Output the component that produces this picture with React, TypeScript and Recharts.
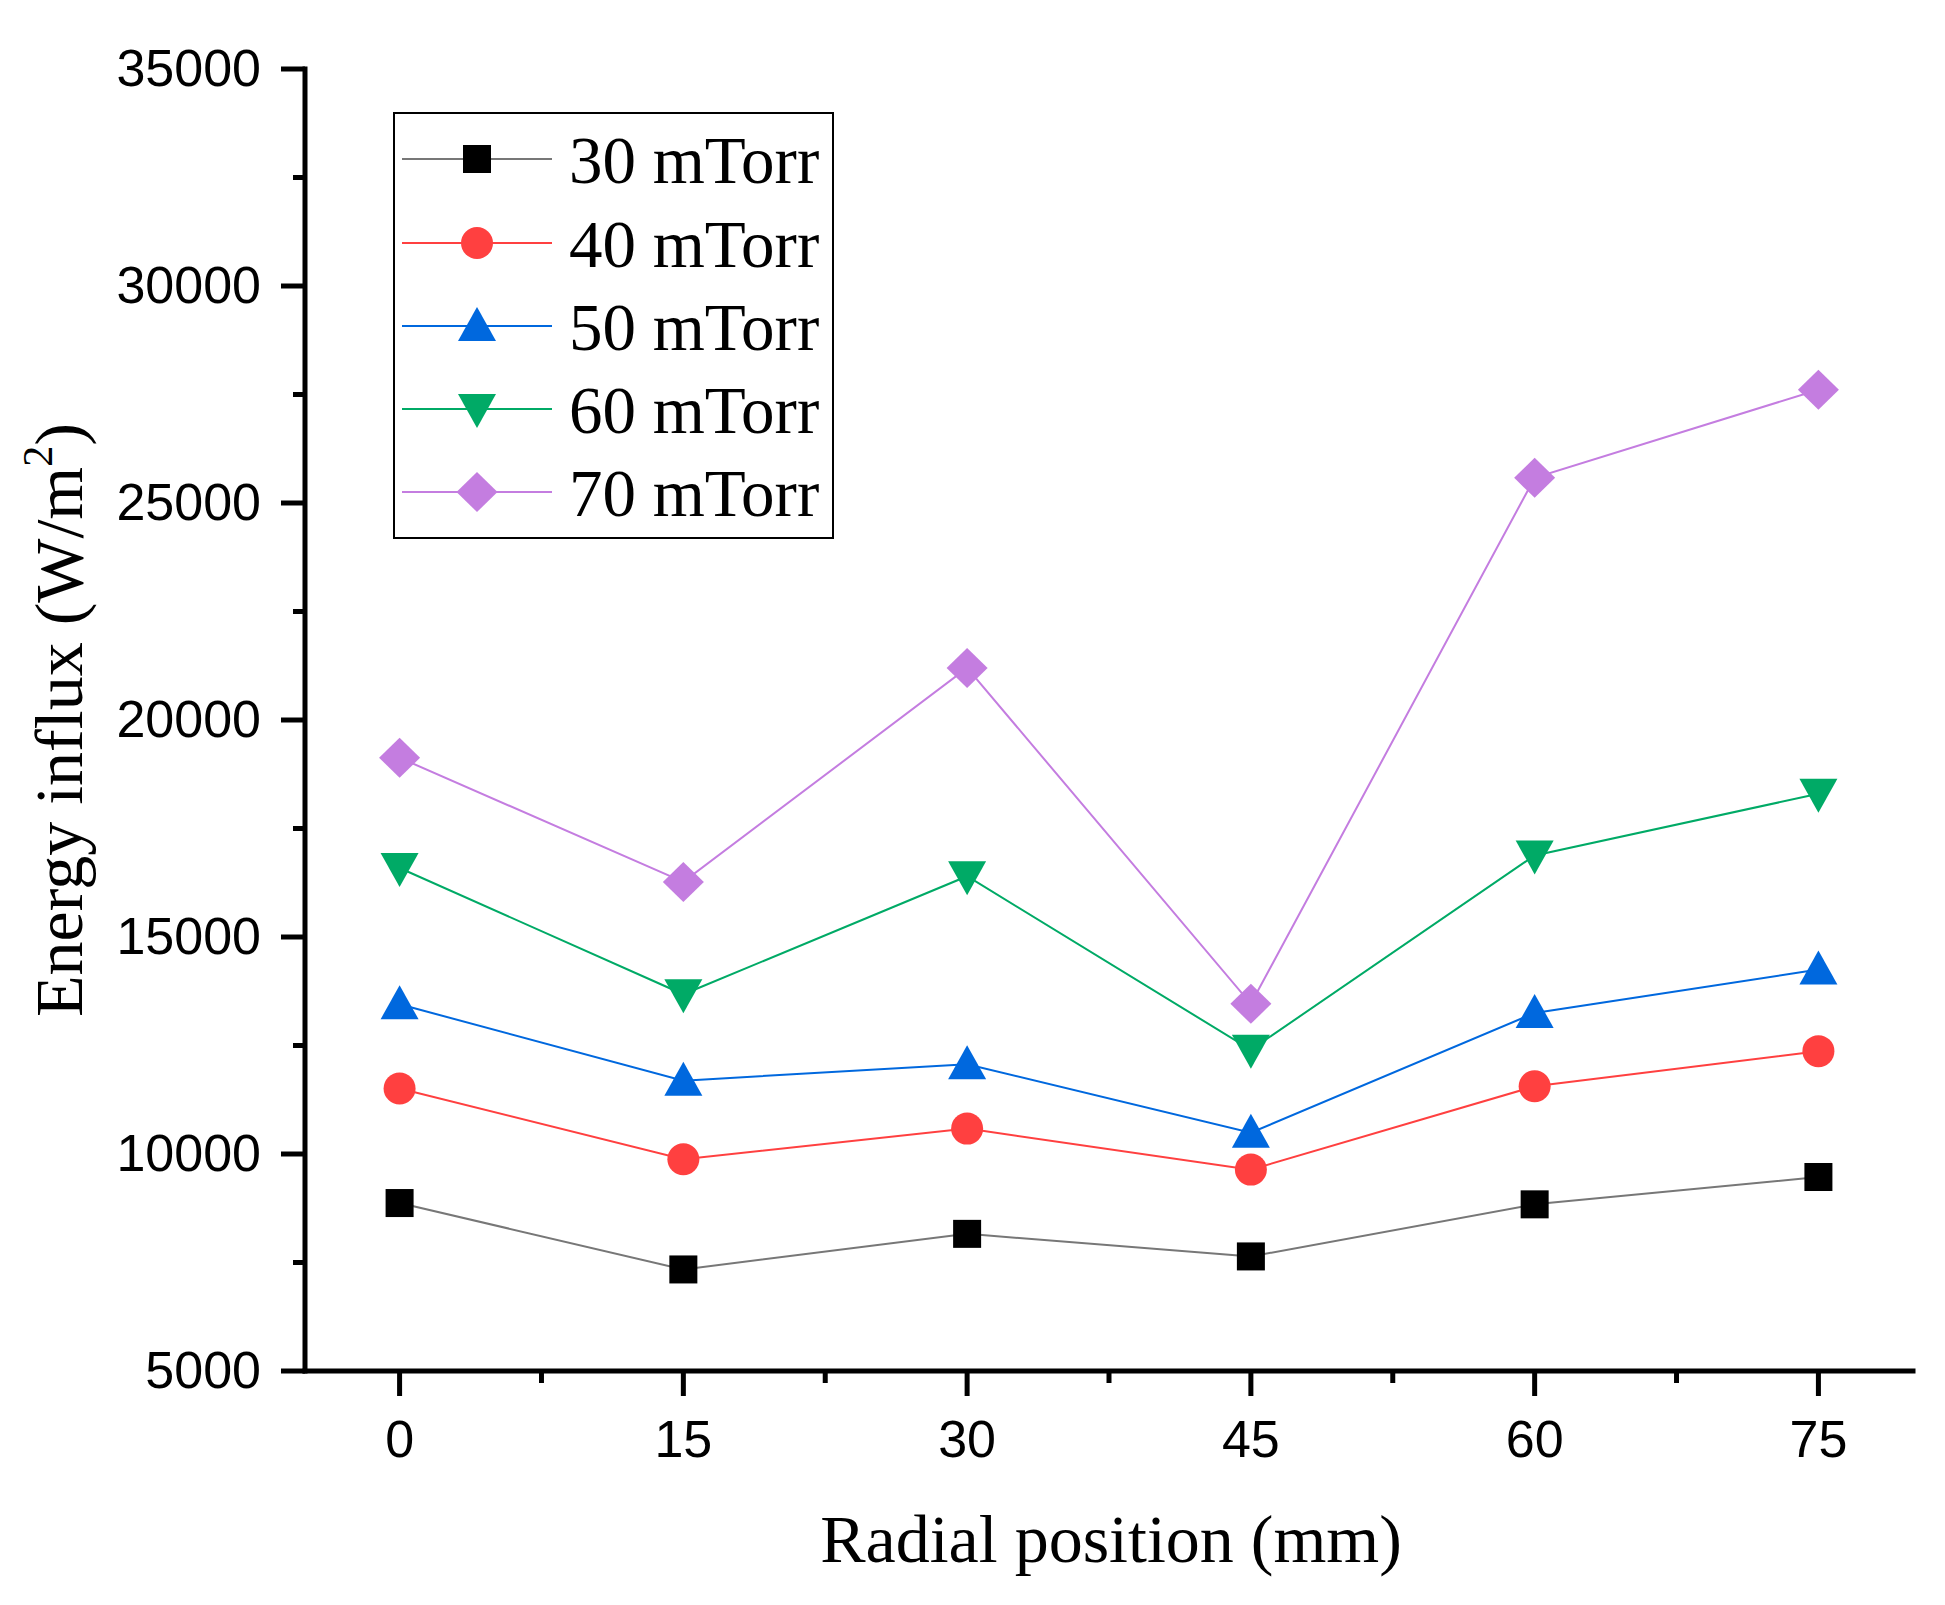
import React from 'react';
import { LineChart, Line, XAxis, YAxis, Legend } from 'recharts';

// radial position (mm)
const POSITIONS = [0, 15, 30, 45, 60, 75];

// energy influx (W/m2) per pressure
const P30 = [8870, 7340, 8160, 7640, 8840, 9470];
const P40 = [11510, 9880, 10585, 9640, 11560, 12370];
const P50 = [13450, 11690, 12070, 10490, 13250, 14250];
const P60 = [16590, 13680, 16400, 12400, 16880, 18300];
const P70 = [19130, 16270, 21200, 13460, 25580, 27610];

const SERIES_NAMES = ['30 mTorr', '40 mTorr', '50 mTorr', '60 mTorr', '70 mTorr'];

const X_MAJOR = [0, 15, 30, 45, 60, 75];
const X_MINOR = [7.5, 22.5, 37.5, 52.5, 67.5];
const Y_MAJOR = [5000, 10000, 15000, 20000, 25000, 30000, 35000];
const Y_MINOR = [7500, 12500, 17500, 22500, 27500, 32500];

const SANS = '"Liberation Sans", Arial, sans-serif';
const SERIF = '"Liberation Serif", "Times New Roman", serif';

const SERIES = [
  { key: 'p30', values: P30, line: '#777777', fill: '#000000', shape: 'square' },
  { key: 'p40', values: P40, line: '#FF4040', fill: '#FF4040', shape: 'circle' },
  { key: 'p50', values: P50, line: '#0068DE', fill: '#0068DE', shape: 'up' },
  { key: 'p60', values: P60, line: '#00AA66', fill: '#00AA66', shape: 'down' },
  { key: 'p70', values: P70, line: '#C47DE0', fill: '#C47DE0', shape: 'diamond' },
];

const data = POSITIONS.map((x, i) => {
  const row: any = { x };
  SERIES.forEach((s) => (row[s.key] = s.values[i]));
  return row;
});

function Marker({ shape, cx, cy, fill }: any) {
  if (cx == null || cy == null) return null;
  switch (shape) {
    case 'square':
      return <rect x={cx - 14} y={cy - 14} width={28} height={28} fill={fill} />;
    case 'circle':
      return <circle cx={cx} cy={cy} r={16} fill={fill} />;
    case 'up':
      return <polygon points={`${cx},${cy - 19} ${cx + 19},${cy + 15} ${cx - 19},${cy + 15}`} fill={fill} />;
    case 'down':
      return <polygon points={`${cx},${cy + 19} ${cx + 19},${cy - 15} ${cx - 19},${cy - 15}`} fill={fill} />;
    default:
      return <polygon points={`${cx},${cy - 20} ${cx + 20.5},${cy} ${cx},${cy + 20} ${cx - 20.5},${cy}`} fill={fill} />;
  }
}

const isMajor = (list: number[], v: number) => list.includes(v);

function BottomTick({ x, y, payload }: any) {
  const major = isMajor(X_MAJOR, payload.value);
  return (
    <g>
      <line x1={x} x2={x} y1={y} y2={y + (major ? 25 : 12)} stroke="#000" strokeWidth={5} />
      {major && (
        <text x={x} y={y + 86} textAnchor="middle" fontSize={52} fontFamily={SANS} fill="#000">
          {payload.value}
        </text>
      )}
    </g>
  );
}

function TopTick({ x, y, payload }: any) {
  const major = isMajor(X_MAJOR, payload.value);
  return <line x1={x} x2={x} y1={y} y2={y + (major ? 25 : 12)} stroke="#000" strokeWidth={5} />;
}

function LeftTick({ x, y, payload }: any) {
  const major = isMajor(Y_MAJOR, payload.value);
  return (
    <g>
      <line x1={x} x2={x - (major ? 24 : 12)} y1={y} y2={y} stroke="#000" strokeWidth={5} />
      {major && (
        <text x={x - 44} y={y + 17} textAnchor="end" fontSize={52} fontFamily={SANS} fill="#000">
          {payload.value}
        </text>
      )}
    </g>
  );
}

function RightTick({ x, y, payload }: any) {
  const major = isMajor(Y_MAJOR, payload.value);
  return <line x1={x} x2={x - (major ? 25 : 12)} y1={y} y2={y} stroke="#000" strokeWidth={5} />;
}

function LegendBox() {
  const rowY = [47, 131, 214, 297, 380];
  return (
    <svg width={441} height={427} style={{ display: 'block' }}>
      <rect x={1} y={1} width={439} height={425} fill="#fff" stroke="#000" strokeWidth={2} />
      {SERIES.map((s, i) => (
        <g key={s.key}>
          <line x1={9} x2={159} y1={rowY[i]} y2={rowY[i]} stroke={s.line} strokeWidth={2} />
          <Marker shape={s.shape} cx={84} cy={rowY[i]} fill={s.fill} />
          <text x={176} y={rowY[i] + 24} fontSize={67} fontFamily={SERIF} fill="#000">
            {SERIES_NAMES[i]}
          </text>
        </g>
      ))}
    </svg>
  );
}

const axisLine = { stroke: '#000', strokeWidth: 5, strokeLinecap: 'square' };

export default function App() {
  return (
    <div style={{ position: 'absolute', left: 0, top: 0, width: 1945, height: 1605, background: '#fff' }}>
      <LineChart width={1945} height={1605} data={data} margin={{ top: 69, right: 32, bottom: 0, left: 0 }}>
        <XAxis
          dataKey="x"
          type="number"
          domain={[-5, 80]}
          allowDataOverflow
          ticks={[...X_MAJOR, ...X_MINOR]}
          interval={0}
          height={234}
          tickSize={0}
          tickMargin={0}
          tickLine={false}
          axisLine={axisLine}
          tick={BottomTick}
          label={{
            content: () => (
              <text x={1111} y={1562} textAnchor="middle" fontSize={68} fontFamily={SERIF} fill="#000">
                Radial position (mm)
              </text>
            ),
          }}
        />
        <XAxis
          xAxisId="top"
          orientation="top"
          type="number"
          domain={[-5, 80]}
          allowDataOverflow
          ticks={[...X_MAJOR, ...X_MINOR]}
          interval={0}
          height={0}
          tickSize={0}
          tickMargin={0}
          tickLine={false}
          axisLine={axisLine}
          tick={TopTick}
        />
        <YAxis
          type="number"
          domain={[5000, 35000]}
          allowDataOverflow
          ticks={[...Y_MAJOR, ...Y_MINOR]}
          interval={0}
          width={305}
          tickSize={0}
          tickMargin={0}
          tickLine={false}
          axisLine={axisLine}
          tick={LeftTick}
          label={{
            content: () => (
              <text
                x={82}
                y={720}
                transform="rotate(-90, 82, 720)"
                textAnchor="middle"
                fontSize={68}
                fontFamily={SERIF}
                fill="#000"
              >
                Energy influx (W/m
                <tspan fontSize={42} dy={-30}>
                  2
                </tspan>
                <tspan fontSize={68} dy={30}>
                  )
                </tspan>
              </text>
            ),
          }}
        />
        <YAxis
          yAxisId="right"
          orientation="right"
          type="number"
          domain={[5000, 35000]}
          allowDataOverflow
          ticks={[...Y_MAJOR, ...Y_MINOR]}
          interval={0}
          width={0}
          tickSize={0}
          tickMargin={0}
          tickLine={false}
          axisLine={axisLine}
          tick={RightTick}
        />
        <Legend
          layout="vertical"
          align="center"
          verticalAlign="middle"
          wrapperStyle={{ left: 393, top: 112, width: 441, height: 427 }}
          content={() => <LegendBox />}
        />
        {SERIES.map((s, i) => (
          <Line
            key={s.key}
            dataKey={s.key}
            name={SERIES_NAMES[i]}
            type="linear"
            stroke={s.line}
            strokeWidth={2}
            isAnimationActive={false}
            activeDot={false}
            dot={(p: any) => <Marker key={`${s.key}-${p.index}`} shape={s.shape} cx={p.cx} cy={p.cy} fill={s.fill} />}
          />
        ))}
      </LineChart>
    </div>
  );
}
